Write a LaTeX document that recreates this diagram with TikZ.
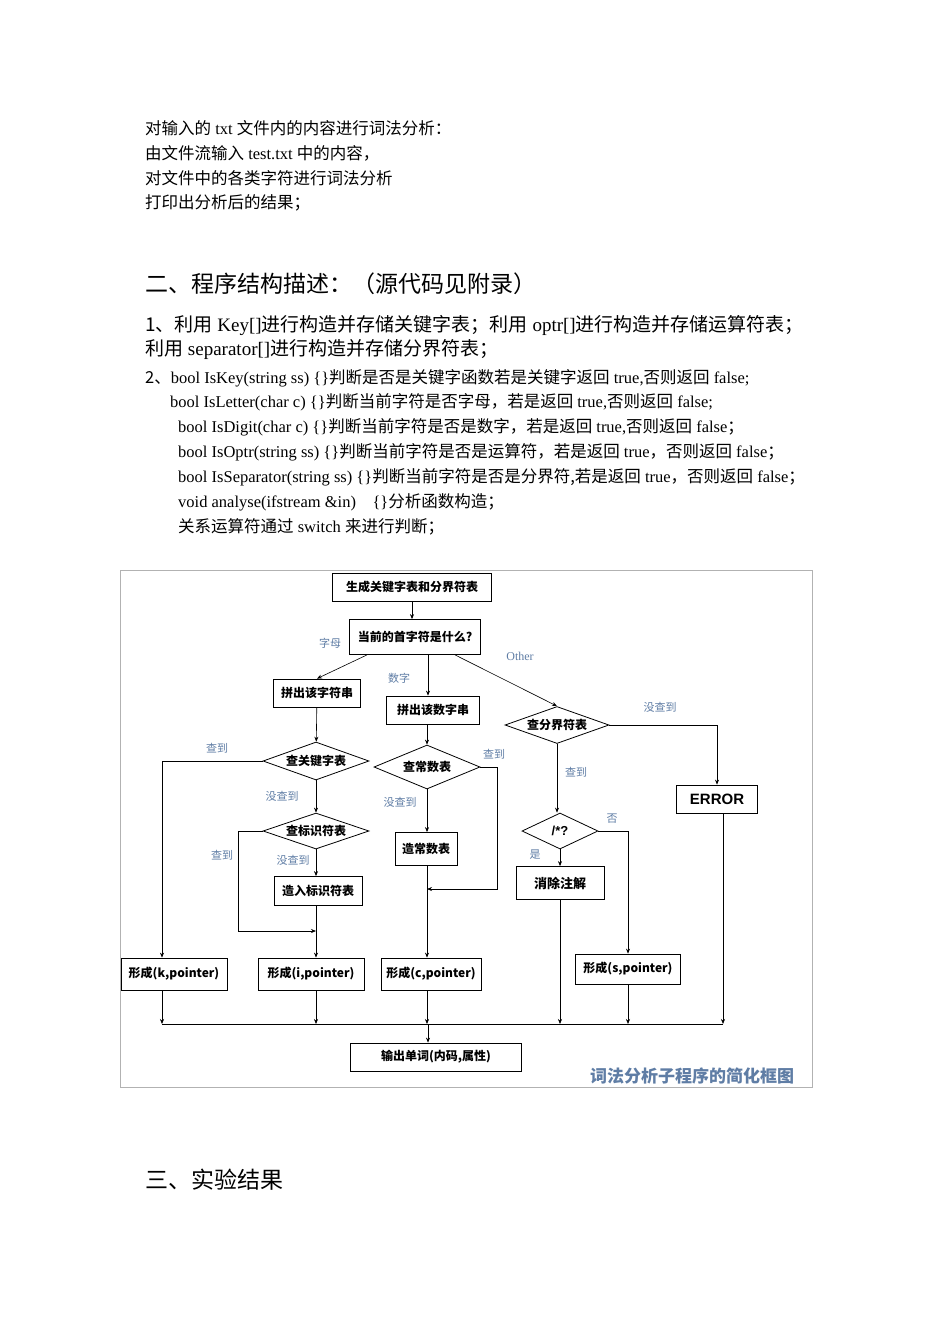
\documentclass[tikz,border=0pt]{standalone}
\usepackage{fontspec}
\setmainfont{Liberation Serif}
\newfontfamily\zh{Noto Sans CJK SC}
\newfontfamily\sfb{Liberation Sans}
\newcommand\zz[1]{{\zh #1}}
\definecolor{labc}{RGB}{95,125,165}
\usetikzlibrary{shapes.geometric,arrows.meta}
\begin{document}
\begin{tikzpicture}[x=1pt,y=-1pt,
 txt/.style={anchor=west,inner sep=0pt,font=\fontsize{16.5}{16.5}\selectfont},
 big/.style={anchor=west,inner sep=0pt,font=\fontsize{19}{19}\selectfont},
 head/.style={anchor=west,inner sep=0pt,font=\zh\fontsize{23}{23}\selectfont},
 box/.style={draw,line width=0.8pt,inner sep=0pt,font=\zh\bfseries\fontsize{12}{12}\selectfont},
 dia/.style={draw,diamond,aspect=2.8,line width=0.8pt,inner sep=0pt,font=\zh\bfseries\fontsize{12}{12}\selectfont},
 lab/.style={inner sep=0pt,text=labc,font=\zh\fontsize{11}{11}\selectfont},
 ar/.style={-{Stealth[length=5pt,width=4pt]},line width=0.6pt},
 ln/.style={line width=0.6pt}]
\useasboundingbox (0,0) rectangle (950,1344);
\fill[white] (0,0) rectangle (950,1344);
% text
\node[txt] (t1) at (145,128) {\zz{对输入的} txt \zz{文件内的内容进行词法分析：}};
\node[txt] (t2) at (145,153) {\zz{由文件流输入} test.txt \zz{中的内容，}};
\node[txt] (t3) at (145,178) {\zz{对文件中的各类字符进行词法分析}};
\node[txt] (t4) at (145,203) {\zz{打印出分析后的结果；}};
\node[head] (h2) at (145,284) {二、程序结构描述：（源代码见附录）};
\node[big] (b1) at (145,325) {\zz{1、利用} Key[]\zz{进行构造并存储关键字表；利用} optr[]\zz{进行构造并存储运算符表；}};
\node[big] (b2) at (145,350) {\zz{利用} separator[]\zz{进行构造并存储分界符表；}};
\node[txt] (c1) at (145,378) {\zz{2、}bool IsKey(string ss) \{\}\zz{判断是否是关键字函数若是关键字返回} true,\zz{否则返回} false;};
\node[txt] (c2) at (170,402) {bool IsLetter(char c) \{\}\zz{判断当前字符是否字母，若是返回} true,\zz{否则返回} false;};
\node[txt] (c3) at (178,427) {bool IsDigit(char c) \{\}\zz{判断当前字符是否是数字，若是返回} true,\zz{否则返回} false\zz{；}};
\node[txt] (c4) at (178,452) {bool IsOptr(string ss) \{\}\zz{判断当前字符是否是运算符，若是返回} true\zz{，否则返回} false\zz{；}};
\node[txt] (c5) at (178,477) {bool IsSeparator(string ss) \{\}\zz{判断当前字符是否是分界符,若是返回} true\zz{，否则返回} false\zz{；}};
\node[txt] (c6) at (178,502) {void analyse(ifstream \&in)\quad \{\}\zz{分析函数构造；}};
\node[txt] (c7) at (178,527) {\zz{关系运算符通过} switch \zz{来进行判断；}};
\node[head] (h3) at (145,1180) {三、实验结果};
% frame
\draw[gray!60,line width=1pt] (120,570) rectangle (812,1087);
% nodes
\node[box,minimum width=159,minimum height=28] (gen) at (412,587) {生成关键字表和分界符表};
\node[box,minimum width=131,minimum height=35] (q) at (415,637) {当前的首字符是什么?};
\node[box,minimum width=87,minimum height=28] (pz) at (317,693) {拼出该字符串};
\node[box,minimum width=93,minimum height=28] (ps) at (433,710) {拼出该数字串};
\node[dia,minimum width=104,minimum height=37] (fj) at (557,725) {查分界符表};
\node[dia,minimum width=106,minimum height=38] (gj) at (316,761) {查关键字表};
\node[dia,minimum width=106,minimum height=44] (cs) at (427,767) {查常数表};
\node[box,minimum width=81,minimum height=28,font=\sfb\bfseries\fontsize{15}{15}\selectfont] (err) at (717,799) {ERROR};
\node[dia,minimum width=106,minimum height=36] (bs) at (316,831) {查标识符表};
\node[box,minimum width=62,minimum height=33] (zc) at (426,849) {造常数表};
\node[dia,minimum width=76,minimum height=36,font=\sfb\bfseries\fontsize{13}{13}\selectfont] (cm) at (560,831) {/*?};
\node[box,minimum width=88,minimum height=33,font=\zh\bfseries\fontsize{13}{13}\selectfont] (xc) at (560,883) {消除注解};
\node[box,minimum width=88,minimum height=29] (zr) at (318,891) {造入标识符表};
\node[box,minimum width=106,minimum height=32] (fk) at (174,974) {形成(k,pointer)};
\node[box,minimum width=106,minimum height=32] (fi) at (311,974) {形成(i,pointer)};
\node[box,minimum width=100,minimum height=32] (fc) at (431,974) {形成(c,pointer)};
\node[box,minimum width=105,minimum height=30] (fs) at (628,969) {形成(s,pointer)};
\node[box,minimum width=171,minimum height=28] (out) at (436,1057) {输出单词(内码,属性)};
\node[inner sep=0pt,text=labc,font=\zh\bfseries\fontsize{17}{17}\selectfont] (cap) at (692,1076) {词法分析子程序的简化框图};
% coordinates
\coordinate (jk) at (162,1024);
\coordinate (je) at (723,1024);
\coordinate (jo) at (428,1024);
% edges
\draw[ar] (gen) -- (q.north -| gen);
\draw[ar] (q.south -| 367,0) -- (pz.north);
\draw[ar] (q.south -| 428,0) -- (ps.north -| 428,0);
\draw[ar] (q.south -| 455,0) -- (fj.north);
\draw[ar] (pz) -- (gj);
\draw[ar] (gj.west) -| (fk.north -| jk);
\draw[ar] (gj) -- (bs);
\draw[ar] (bs.west) -- ++(-24,0) |- (316,931);
\draw[ar] (bs) -- (zr.north -| bs);
\draw[ar] (zr.south -| bs) -- (fi.north -| bs);
\draw[ar] (ps.south -| cs) -- (cs);
\draw[ar] (cs.east) -- (497,767) |- (427,889);
\draw[ar] (cs) -- (zc.north -| cs);
\draw[ar] (zc.south -| cs) -- (fc.north -| cs);
\draw[ar] (fj.east) -| (err.north);
\draw[ar] (fj) -- (cm.north -| fj);
\draw[ar] (cm.east) -| (fs.north);
\draw[ar] (cm) -- (xc);
\draw[ln] (jk) -- (je);
\draw[ar] (fk.south -| jk) -- (jk);
\draw[ar] (fi.south -| bs) -- (bs |- jk);
\draw[ar] (fc.south -| cs) -- (cs |- jk);
\draw[ar] (xc.south) -- (xc |- jk);
\draw[ar] (fs.south) -- (fs |- jk);
\draw[ar] (err.south -| je) -- (je);
\draw[ar] (jo) -- (out.north -| jo);
% labels
\node[lab] (l1) at (330,643) {字母};
\node[lab] (l2) at (399,678) {数字};
\node[lab,font=\fontsize{12}{12}\selectfont] (l3) at (520,656) {Other};
\node[lab] (l4) at (217,748) {查到};
\node[lab] (l5) at (282,796) {没查到};
\node[lab] (l6) at (222,855) {查到};
\node[lab] (l7) at (293,860) {没查到};
\node[lab] (l8) at (494,754) {查到};
\node[lab] (l9) at (400,802) {没查到};
\node[lab] (l10) at (660,707) {没查到};
\node[lab] (l11) at (576,772) {查到};
\node[lab] (l12) at (612,819) {否};
\node[lab] (l13) at (535,855) {是};
\end{tikzpicture}
\end{document}
